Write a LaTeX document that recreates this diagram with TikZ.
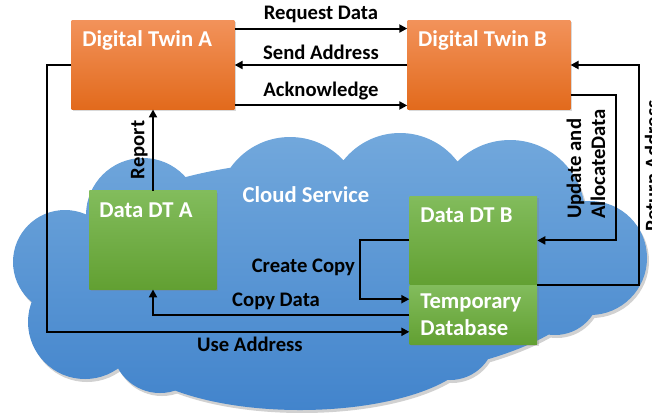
\documentclass[tikz,border=0pt]{standalone}
\usepackage{fontspec}
\setmainfont{Carlito}
\usetikzlibrary{arrows.meta, positioning, calc, backgrounds, shadows}

\definecolor{twintop}{RGB}{242,146,90}
\definecolor{twinbot}{RGB}{226,106,28}
\definecolor{datatop}{RGB}{130,188,92}
\definecolor{databot}{RGB}{98,160,50}
\definecolor{cloudtop}{RGB}{114,168,220}
\definecolor{cloudbot}{RGB}{66,132,204}

\tikzset{
        twin/.style={rectangle, top color=twintop, bottom color=twinbot, minimum width=4.29cm, minimum height=2.33cm, inner sep=0pt, drop shadow={opacity=0.3, shadow xshift=1.2pt, shadow yshift=-1.2pt}},
        store/.style={rectangle, top color=datatop, bottom color=databot, minimum width=3.36cm, inner sep=0pt, drop shadow={opacity=0.3, shadow xshift=1.2pt, shadow yshift=-1.2pt}},
        title/.style={font=\fontsize{17}{20}\selectfont\bfseries, text=white},
        msg/.style={font=\fontsize{15.5}{18}\selectfont\bfseries},
        arrow/.style={-{Triangle[length=6pt, width=6pt]}, line width=1.5pt},
        line/.style={line width=1.5pt},
    }

\newcommand{\cloudpath}{
    (330,270) ellipse [x radius=270, y radius=110]
    (143,215) circle [radius=57]
    (290,210) circle [radius=73]
    (400,205) circle [radius=72]
    (510,215) circle [radius=75]
    (590,258) circle [radius=57]
    (555,290) circle [radius=45]
    (65,262) circle [radius=52]
    (85,322) circle [radius=57]
    (160,345) circle [radius=48]
    (300,345) ellipse [x radius=175, y radius=65]
    (450,335) circle [radius=45]
}

\begin{document}
\begin{tikzpicture}[x=0.75pt, y=-0.75pt]
        \useasboundingbox (0,0) rectangle (652,412);

        % === DIGITAL TWINS ===
        \node[twin, label={[title, anchor=north west, inner sep=0pt, xshift=8pt, yshift=-7.5pt]north west:Digital Twin A}] (dta) at (153,65) {};
        \node[twin, right=4.55cm of dta, label={[title, anchor=north west, inner sep=0pt, xshift=8pt, yshift=-7.5pt]north west:Digital Twin B}] (dtb) {};

        % === CLOUD STORES ===
        \node[store, minimum height=2.59cm, below=2.14cm of dta, label={[title, anchor=north west, inner sep=0pt, xshift=7.5pt, yshift=-9pt]north west:Data DT A}] (ddta) {};
        \node[store, minimum height=2.33cm, below=2.28cm of dtb, xshift=-0.41cm, label={[title, anchor=north west, inner sep=0pt, xshift=8pt, yshift=-9pt]north west:Data DT B}] (ddtb) {};
        \node[store, title, minimum height=1.56cm, below=0cm of ddtb, align=left, text width=3.36cm-16pt, inner xsep=8pt] (tempdb) {Temporary\\Database};

        \node[title] (cloudname) at (306,195) {Cloud Service};

        % twin to twin messages
        \draw[arrow] ([yshift=-6pt]dta.north east) -- ([yshift=-6pt]dtb.north west) node[midway, above, msg] {Request Data};
        \draw[arrow] (dtb.west) -- (dta.east) node[midway, above, msg] {Send Address};
        \draw[arrow] ([yshift=3pt]dta.south east) -- ([yshift=3pt]dtb.south west) node[midway, above, msg] {Acknowledge};

        % cloud side
        \draw[arrow] (ddta.north) -- (dta.south) node[midway, above, sloped, msg] {Report};
        \draw[arrow] (dta.west) -- ++(-0.64cm,0) |- ([yshift=-0.45cm]tempdb.west) node[pos=0.78, below, msg] {Use Address};
        \draw[arrow] (tempdb.west) -| (ddta.south) node[pos=0.26, above, msg] {Copy Data};
        \draw[arrow] (ddtb.west) -- ++(-1.30cm,0) |- ([yshift=0.41cm]tempdb.west) node[pos=0.23, left, inner sep=3pt, msg] {Create Copy};
        \draw[arrow] ([yshift=-0.78cm]dtb.east) -- ++(1.19cm,0) |- (ddtb.east) node[pos=0.238, rotate=90, anchor=south, align=left, inner sep=7pt, msg] {Update and\\AllocateData};
        \draw[arrow] (tempdb.north east) -- ++(2.67cm,0) |- (dtb.east) node[pos=0.27, rotate=90, anchor=north, inner sep=4pt, msg] {Return Address};

        % Cloud
        \begin{scope}[on background layer]
            \fill[black, opacity=0.18, shift={(2,3)}] \cloudpath;
            \shade[top color=cloudtop, bottom color=cloudbot] \cloudpath;
        \end{scope}

    \end{tikzpicture}
\end{document}
